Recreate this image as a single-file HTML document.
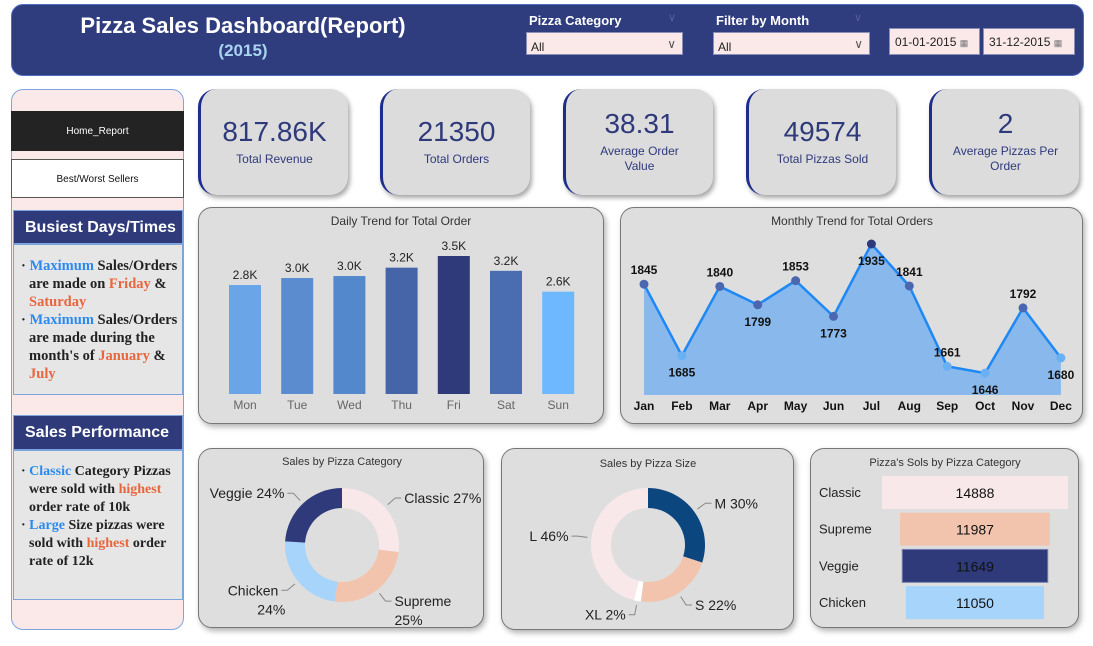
<!DOCTYPE html>
<html><head><meta charset="utf-8"><style>
*{box-sizing:border-box;margin:0;padding:0}
body{width:1093px;height:646px;background:#fff;position:relative;overflow:hidden;font-family:"Liberation Sans",sans-serif}
.a{position:absolute}
.hdr{left:11px;top:4px;width:1073px;height:72px;background:#2f3c7e;border-radius:12px;border:1px solid #4a6fc0}
.dd{background:#fbe9ea;border:1px solid #8a8fb8;font-size:12px;color:#222;padding:7px 4px 0}
.card{background:#dcdcdc;border-radius:18px;border-left:3px solid #1d2d8c;box-shadow:2px 3px 5px rgba(0,0,0,.35);text-align:center;color:#2e3a7a}
.card .v{font-size:28px;margin-top:27px}
.card .l{font-size:12px;margin-top:4px;line-height:15px}
.pnl{background:#dedede;border-radius:14px;border:1px solid #777;box-shadow:2px 3px 6px rgba(0,0,0,.3)}
.side{left:11px;top:89px;width:173px;height:541px;background:#fbe9ea;border:1px solid #7ba5dc;border-radius:12px}
.sh{background:#2e3a7a;color:#fff;font-weight:bold;font-size:16px;padding:8px 0 0 11px;border:1px solid #7ba5dc}
.st{background:#e6e6e6;border:1px solid #7ba5dc;font-family:"Liberation Serif",serif;font-weight:bold;font-size:14.5px;line-height:18px;color:#222;padding:12px 4px 0 15px}
.st p{text-indent:-8px}
.b{color:#2b8af0}.o{color:#e8663c}
</style></head><body>
<div class="a hdr"></div>
<div class="a" style="left:60px;top:13px;width:366px;text-align:center;color:#fff;font-weight:bold;font-size:22px">Pizza Sales Dashboard(Report)</div>
<div class="a" style="left:60px;top:41px;width:366px;text-align:center;color:#a8d4f0;font-weight:bold;font-size:17px">(2015)</div>
<div class="a" style="left:529px;top:13px;color:#fff;font-weight:bold;font-size:13px">Pizza Category</div>
<div class="a" style="left:668px;top:11px;color:#55609a;font-size:11px">∨</div>
<div class="a dd" style="left:526px;top:32px;width:157px;height:23px">All<span style="position:absolute;right:6px;top:4px;color:#555">∨</span></div>
<div class="a" style="left:716px;top:13px;color:#fff;font-weight:bold;font-size:13px">Filter by Month</div>
<div class="a" style="left:854px;top:11px;color:#55609a;font-size:11px">∨</div>
<div class="a dd" style="left:713px;top:32px;width:157px;height:23px">All<span style="position:absolute;right:6px;top:4px;color:#555">∨</span></div>
<div class="a dd" style="left:889px;top:28px;width:91px;height:27px;padding:6px 5px 0">01-01-2015 <span style="font-size:9px;color:#777">▦</span></div>
<div class="a dd" style="left:983px;top:28px;width:92px;height:27px;padding:6px 5px 0">31-12-2015 <span style="font-size:9px;color:#777">▦</span></div>

<div class="a side"></div>
<div class="a" style="left:11px;top:111px;width:173px;height:40px;background:#232323;color:#fff;font-size:10px;text-align:center;padding-top:15px">Home_Report</div>
<div class="a" style="left:11px;top:159px;width:173px;height:39px;background:#fff;border:1px solid #555;color:#111;font-size:10px;text-align:center;padding-top:14px">Best/Worst Sellers</div>
<div class="a sh" style="left:13px;top:210px;width:170px;height:34px">Busiest Days/Times</div>
<div class="a st" style="left:13px;top:244px;width:170px;height:151px">
<p>· <span class="b">Maximum</span> Sales/Orders are made on <span class="o">Friday</span> &amp; <span class="o">Saturday</span></p>
<p>· <span class="b">Maximum</span> Sales/Orders are made during the month's of <span class="o">January</span> &amp; <span class="o">July</span></p></div>
<div class="a sh" style="left:13px;top:415px;width:170px;height:35px">Sales Performance</div>
<div class="a st" style="left:13px;top:450px;width:170px;height:150px;font-size:14px">
<p>· <span class="b">Classic</span> Category Pizzas were sold with <span class="o">highest</span> order rate of 10k</p>
<p>· <span class="b">Large</span> Size pizzas were sold with <span class="o">highest</span> order rate of 12k</p></div>

<div class="a card" style="left:198px;top:89px;width:150px;height:106px"><div class="v">817.86K</div><div class="l">Total Revenue</div></div>
<div class="a card" style="left:380px;top:89px;width:150px;height:106px"><div class="v">21350</div><div class="l">Total Orders</div></div>
<div class="a card" style="left:563px;top:89px;width:150px;height:106px"><div class="v" style="margin-top:19px">38.31</div><div class="l">Average Order<br>Value</div></div>
<div class="a card" style="left:746px;top:89px;width:150px;height:106px"><div class="v">49574</div><div class="l">Total Pizzas Sold</div></div>
<div class="a card" style="left:929px;top:89px;width:150px;height:106px"><div class="v" style="margin-top:19px">2</div><div class="l">Average Pizzas Per<br>Order</div></div>

<div class="a pnl" style="left:198px;top:207px;width:406px;height:217px"></div>
<div class="a pnl" style="left:620px;top:207px;width:463px;height:217px"></div>
<div class="a pnl" style="left:198px;top:448px;width:286px;height:180px"></div>
<div class="a pnl" style="left:501px;top:448px;width:293px;height:182px"></div>
<div class="a pnl" style="left:810px;top:448px;width:269px;height:180px"></div>

<svg class="a" id="ch" width="1093" height="646" style="left:0;top:0" font-family="Liberation Sans, sans-serif"></svg>
<script>
const days=["Mon","Tue","Wed","Thu","Fri","Sat","Sun"];
const dayOrders=[2794,2973,3024,3239,3538,3158,2624];
const dayLabels=["2.8K","3.0K","3.0K","3.2K","3.5K","3.2K","2.6K"];
const dayColors=["#6aa5e8","#5a8ccf","#5488cc","#4565a8","#2e3a7a","#4a6cb0","#6db8ff"];
const months=["Jan","Feb","Mar","Apr","May","Jun","Jul","Aug","Sep","Oct","Nov","Dec"];
const monthOrders=[1845,1685,1840,1799,1853,1773,1935,1841,1661,1646,1792,1680];
const labelBelow=[false,true,false,true,false,true,true,false,false,true,false,true];
const catNames=["Classic","Supreme","Chicken","Veggie"];
const catPct=[27,25,24,24];
const catColors=["#f9e8e9","#f3c4ad","#a7d4fb","#2e3a7a"];
const sizeNames=["M","S","XL","L"];
const sizePct=[30,22,2,46];
const sizeColors=["#0b467f","#f3c4ad","#ffffff","#f9e8e9"];
const qtyNames=["Classic","Supreme","Veggie","Chicken"];
const qtyVals=[14888,11987,11649,11050];
const qtyColors=["#f9e8e9","#f3c4ad","#2e3a7a","#a7d4fb"];

const svg=document.getElementById('ch');const NS="http://www.w3.org/2000/svg";
function mk(t,a,p){const e=document.createElementNS(NS,t);for(const k in a)e.setAttribute(k,a[k]);(p||svg).appendChild(e);return e;}
function tx(x,y,s,a){const e=mk('text',Object.assign({x:x,y:y},a));e.textContent=s;return e;}

// Daily chart
tx(401,225,"Daily Trend for Total Order",{'text-anchor':'middle','font-size':12,fill:'#333'});
const dY=v=>394-v/3538*138, dX=i=>245+i*52.2;
days.forEach((d,i)=>{
 const r=mk('rect',{x:dX(i)-16,y:dY(dayOrders[i]),width:32,height:394-dY(dayOrders[i]),fill:dayColors[i]});
 
 
 tx(dX(i),dY(dayOrders[i])-6,dayLabels[i],{'text-anchor':'middle','font-size':12,fill:'#222'});
 tx(dX(i),409,d,{'text-anchor':'middle','font-size':12,fill:'#666'});
});

// Monthly chart
tx(852,225,"Monthly Trend for Total Orders",{'text-anchor':'middle','font-size':12,fill:'#333'});
const mX=i=>644+i*37.9, mY=v=>395-(v-1597)/(1935-1597)*151;
let pts=monthOrders.map((v,i)=>mX(i)+','+mY(v)).join(' ');
const ar=mk('polygon',{points:mX(0)+',395 '+pts+' '+mX(11)+',395',fill:'#89b9ec'});

const ln=mk('polyline',{points:pts,fill:'none',stroke:'#1e88f5','stroke-width':2.5});

const mn=Math.min(...monthOrders),mxv=Math.max(...monthOrders);
monthOrders.forEach((v,i)=>{
 const t=(v-mn)/(mxv-mn);
 const c=t>0.9?'#2e3a7a':t>0.4?'#4a67b0':t>0.25?'#5a86cc':'#6ab0f5';
 const p=mk('circle',{cx:mX(i),cy:mY(v),r:4.5,fill:c});
 
 
 tx(mX(i),labelBelow[i]?mY(v)+21:mY(v)-10,v,{'text-anchor':'middle','font-size':12,'font-weight':'bold',fill:'#111'});
 tx(mX(i),410,months[i],{'text-anchor':'middle','font-size':12,'font-weight':'bold',fill:'#111'});
});

// Donuts
function donut(cx,cy,names,pct,cols,pre){
 let a0=0;const R=57,r=37;
 names.forEach((n,i)=>{
  const a1=a0+pct[i]/100*2*Math.PI;
  const P=(a,rad)=>[cx+rad*Math.sin(a),cy-rad*Math.cos(a)];
  const lg=(a1-a0)>Math.PI?1:0;
  const [x1,y1]=P(a0,R),[x2,y2]=P(a1,R),[x3,y3]=P(a1,r),[x4,y4]=P(a0,r);
  const s=mk('path',{d:`M${x1},${y1}A${R},${R} 0 ${lg} 1 ${x2},${y2}L${x3},${y3}A${r},${r} 0 ${lg} 0 ${x4},${y4}Z`,fill:cols[i]});
  
  
  const am=(a0+a1)/2,[lx,ly]=P(am,R+4),[ex,ey]=P(am,R+14);
  const right=Math.sin(am)>=0;
  mk('polyline',{points:`${lx},${ly} ${ex},${ey} ${ex+(right?6:-6)},${ey}`,fill:'none',stroke:'#888','stroke-width':1});
  const lowerHalf=Math.cos(am)<-0.3 && pre==='category';
  if(lowerHalf){
   tx(ex+(right?9:-9),ey+5,n,{'text-anchor':right?'start':'end','font-size':14,fill:'#222'});
   tx(ex+(right?9:-30),ey+24,pct[i]+'%',{'text-anchor':'start','font-size':14,fill:'#222'});
  } else tx(ex+(right?9:-9),ey+5,n+' '+pct[i]+'%',{'text-anchor':right?'start':'end','font-size':14,fill:'#222'});
  a0=a1;
 });
}
tx(342,465,"Sales by Pizza Category",{'text-anchor':'middle','font-size':11,fill:'#333'});
donut(342,545,catNames,catPct,catColors,'category');
tx(648,467,"Sales by Pizza Size",{'text-anchor':'middle','font-size':11,fill:'#333'});
donut(648,545,sizeNames,sizePct,sizeColors,'size');

// Quantity bars
tx(945,466,"Pizza's Sols by Pizza Category",{'text-anchor':'middle','font-size':11,fill:'#333'});
const qMax=Math.max(...qtyVals);
qtyNames.forEach((n,i)=>{
 const w=qtyVals[i]/qMax*186,y=476+i*36.7;
 const b=mk('rect',{x:975-w/2,y:y,width:w,height:33,fill:qtyColors[i],stroke:i==2?'#7a85b5':'none'});
 
 
 tx(819,y+21,n,{'font-size':13,fill:'#222'});
 tx(975,y+22,qtyVals[i],{'text-anchor':'middle','font-size':14,fill:'#111'});
});
</script>
</body></html>
